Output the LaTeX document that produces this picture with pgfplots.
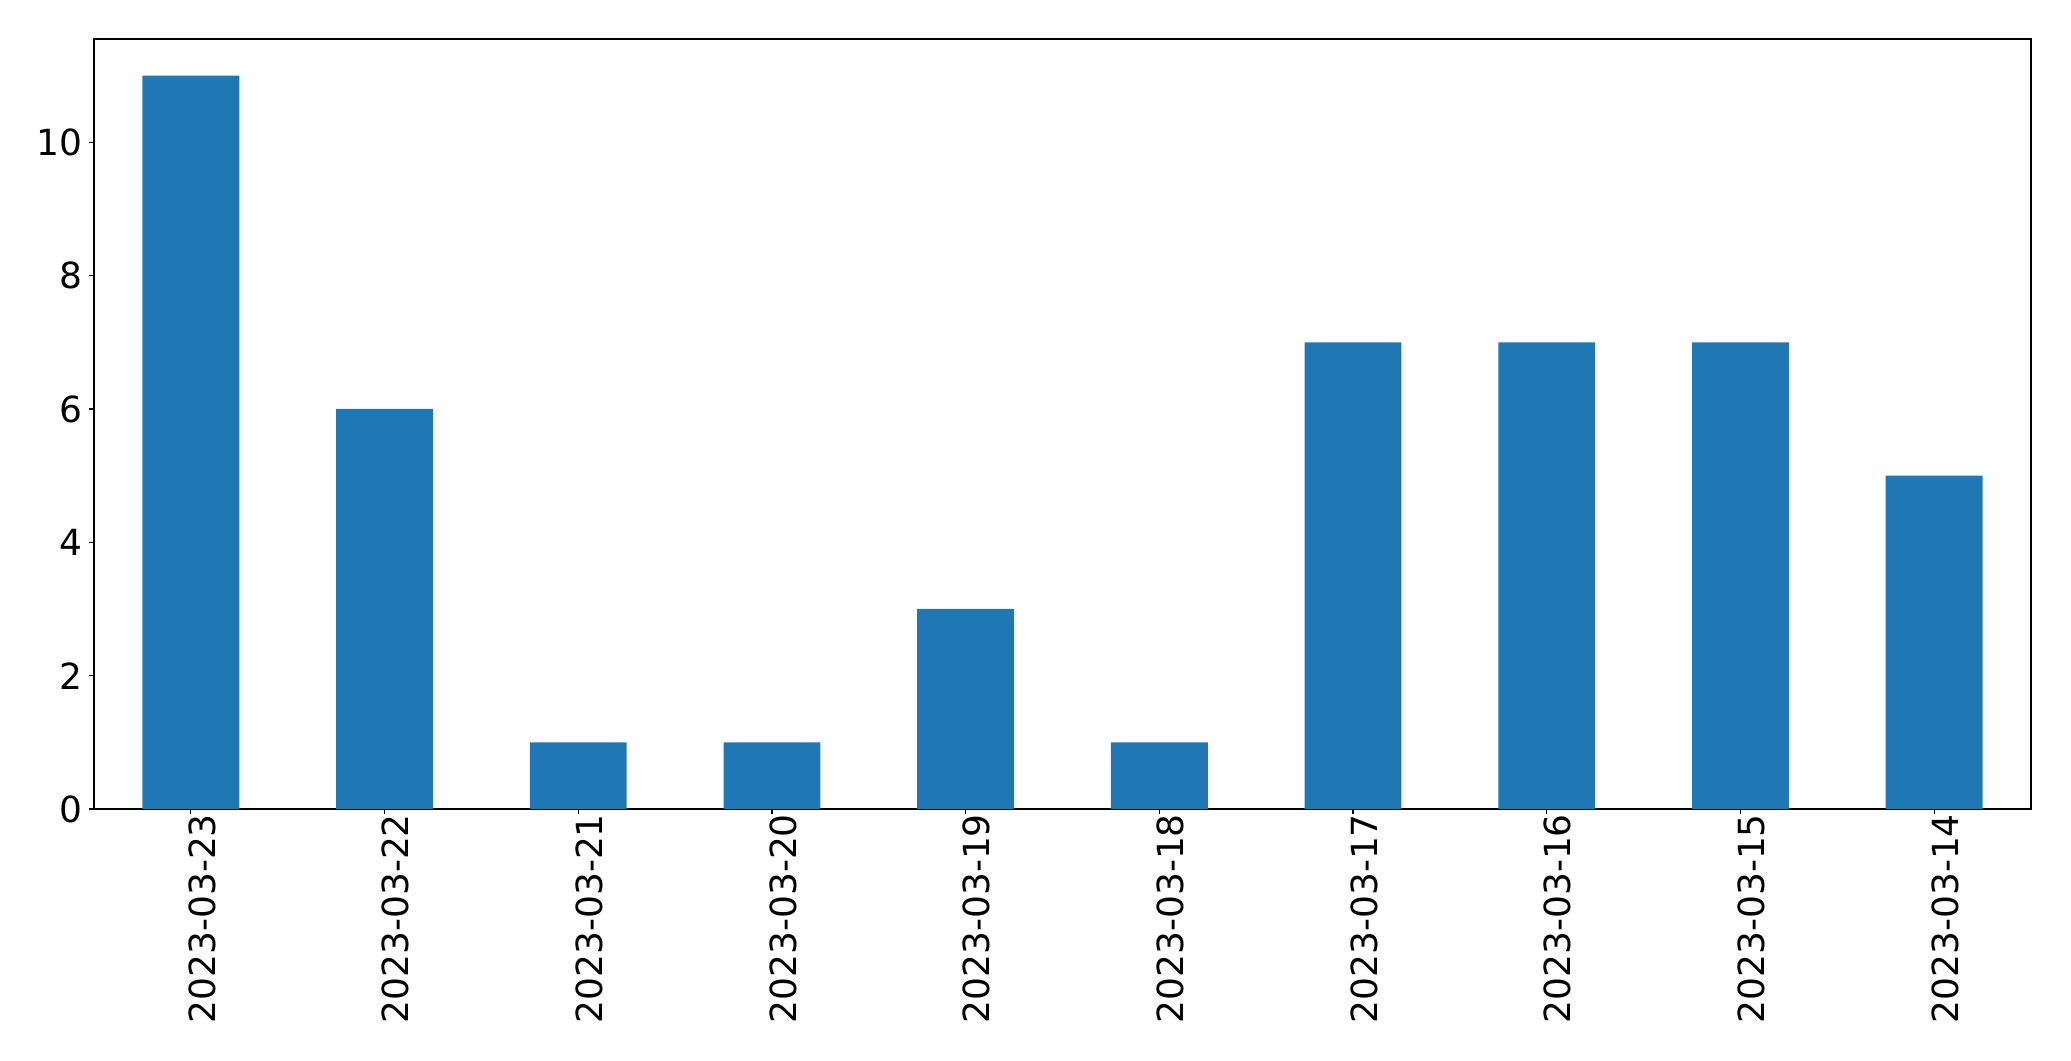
\documentclass[border=0pt]{standalone}
\usepackage{pgfplots}
\pgfplotsset{compat=1.18}
\usepackage{fontspec}
\setmainfont{DejaVu Sans}
\definecolor{mplblue}{HTML}{1F77B4}
\begin{document}
\begin{tikzpicture}
\path[use as bounding box] (0,0) rectangle (1491.12bp,763.92bp);
\begin{axis}[
  at={(67.68bp,181.44bp)}, anchor=south west,
  scale only axis, width=1394.64bp, height=554.4bp,
  xmin=-0.5, xmax=9.5, ymin=0, ymax=11.55,
  xtick={0,...,9},
  xticklabels={2023-03-23,2023-03-22,2023-03-21,2023-03-20,2023-03-19,2023-03-18,2023-03-17,2023-03-16,2023-03-15,2023-03-14},
  ytick={0,2,4,6,8,10},
  /pgf/number format/assume math mode=true,
  tick label style={font=\fontsize{26}{31}\selectfont},
  xticklabel style={rotate=90, anchor=east, inner sep=0pt},
  yticklabel style={inner sep=0pt, xshift=-5bp},
  x tick label style={yshift=-8bp},
  tick align=outside, tick pos=left,
  major tick length=3.5bp,
  axis line style={line width=0.8bp},
  every tick/.style={line width=0.8bp, black},
]
\addplot[ybar, bar width=0.5, fill=mplblue, draw=none] coordinates {
(0,11) (1,6) (2,1) (3,1) (4,3) (5,1) (6,7) (7,7) (8,7) (9,5)
};
\end{axis}
\end{tikzpicture}
\end{document}
